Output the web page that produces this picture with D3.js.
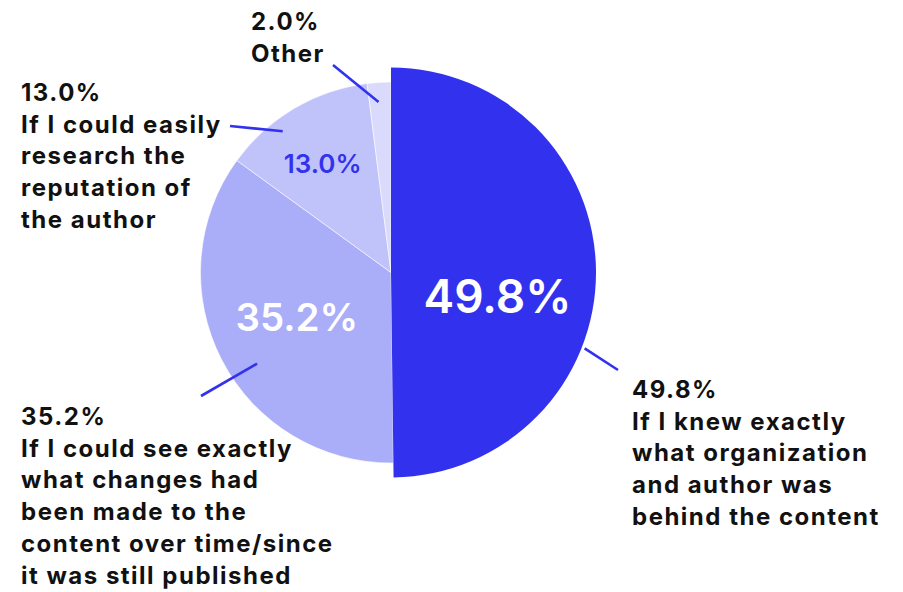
<!DOCTYPE html>
<html>
<head>
<meta charset="utf-8">
<script src="https://cdn.jsdelivr.net/npm/d3@7"></script>
<style>
  html, body { margin: 0; padding: 0; background: #ffffff; }
  svg { display: block; }
  text { font-family: Inter, "Noto Sans", sans-serif; }
</style>
</head>
<body>
<svg id="chart" width="903" height="592"></svg>
<script>
// Survey answers, in drawing order (clockwise from 12 o'clock)
const categories = [
  "If I knew exactly what organization and author was behind the content",
  "If I could see exactly what changes had been made to the content over time/since it was still published",
  "If I could easily research the reputation of the author",
  "Other"
];
const values = [49.8, 35.2, 13.0, 2.0];
const sliceColors = ["#3232ee", "#aaadf8", "#c0c2fa", "#dadafc"];

// Wrapped outer label lines per slice
const labelLines = [
  ["If I knew exactly", "what organization", "and author was", "behind the content"],
  ["If I could see exactly", "what changes had", "been made to the", "content over time/since", "it was still published"],
  ["If I could easily", "research the", "reputation of", "the author"],
  ["Other"]
];

const svg = d3.select("#chart");
const cx = 391, cy = 272.5;
const rBase = 190.5, rLead = 205;   // leading slice is drawn larger

const pie = d3.pie().sort(null).value(d => d);
const arcs = pie(values);
const arcFor = (d, i) => d3.arc().innerRadius(0).outerRadius(i === 0 ? rLead : rBase)(d);

const g = svg.append("g").attr("transform", `translate(${cx},${cy})`);

// Slices: the smaller ones first, so their thin white borders sit beneath the lead slice
const order = [1, 2, 3, 0];
g.selectAll("path.slice")
  .data(order.map(i => ({ a: arcs[i], i })))
  .join("path")
  .attr("class", "slice")
  .attr("d", d => arcFor(d.a, d.i))
  .attr("fill", d => sliceColors[d.i])
  .attr("stroke", d => d.i === 0 ? "none" : "#ffffff")
  .attr("stroke-width", 0.8)
  .attr("stroke-opacity", 0.7);

// Polar helper (angle in radians, clockwise from 12 o'clock)
const polar = (ang, r) => [Math.sin(ang) * r, -Math.cos(ang) * r];
const fmt = v => d3.format(".1f")(v) + "%";

// In-slice value labels: angle offset from slice mid-angle, radius, size, colour
const innerLabels = [
  { i: 0, dAng: 0.22, r: 109, size: 46, fill: "#ffffff" },
  { i: 1, dAng: 0.04, r: 104, size: 38.5, fill: "#ffffff" },
  { i: 2, dAng: -0.024, r: 129, size: 26, fill: "#3232ee" }
];
innerLabels.forEach(L => {
  const a = arcs[L.i];
  const mid = (a.startAngle + a.endAngle) / 2 + L.dAng;
  const [x, y] = polar(mid, L.r);
  g.append("text")
    .attr("x", x).attr("y", y)
    .attr("text-anchor", "middle")
    .attr("dominant-baseline", "central")
    .attr("font-size", L.size)
    .attr("font-weight", 600)
    .attr("fill", L.fill)
    .text(fmt(values[L.i]));
});

// Leader lines: inner end on the slice (angle offset + radius), outer end near its label
const leaders = [
  { i: 0, dAng: 0.38, rIn: 208, to: [618, 370] },
  { i: 1, dAng: -0.12, rIn: 162, to: [201, 396] },
  { i: 2, dAng: -0.12, rIn: 178, to: [230, 126] },
  { i: 3, dAng: -0.01, rIn: 171, to: [333, 65] }
];
leaders.forEach(L => {
  const a = arcs[L.i];
  const mid = (a.startAngle + a.endAngle) / 2 + L.dAng;
  const [x, y] = polar(mid, L.rIn);
  svg.append("line")
    .attr("x1", cx + x).attr("y1", cy + y)
    .attr("x2", L.to[0]).attr("y2", L.to[1])
    .attr("stroke", "#3232ee")
    .attr("stroke-width", 2.6);
});

// Outer labels: value line then wrapped category text
const outer = [
  { i: 0, x: 632, y: 398 },
  { i: 1, x: 21, y: 425 },
  { i: 2, x: 21, y: 101 },
  { i: 3, x: 251, y: 30 }
];
const lineH = 31.7;
outer.forEach(o => {
  const t = svg.append("text")
    .attr("x", o.x).attr("y", o.y)
    .attr("font-size", 24)
    .attr("font-weight", 700)
    .attr("letter-spacing", 1.5)
    .attr("fill", "#111111");
  const lines = [fmt(values[o.i])].concat(labelLines[o.i]);
  lines.forEach((s, k) => {
    t.append("tspan").attr("x", o.x).attr("y", o.y + k * lineH).text(s);
  });
});
</script>
</body>
</html>
